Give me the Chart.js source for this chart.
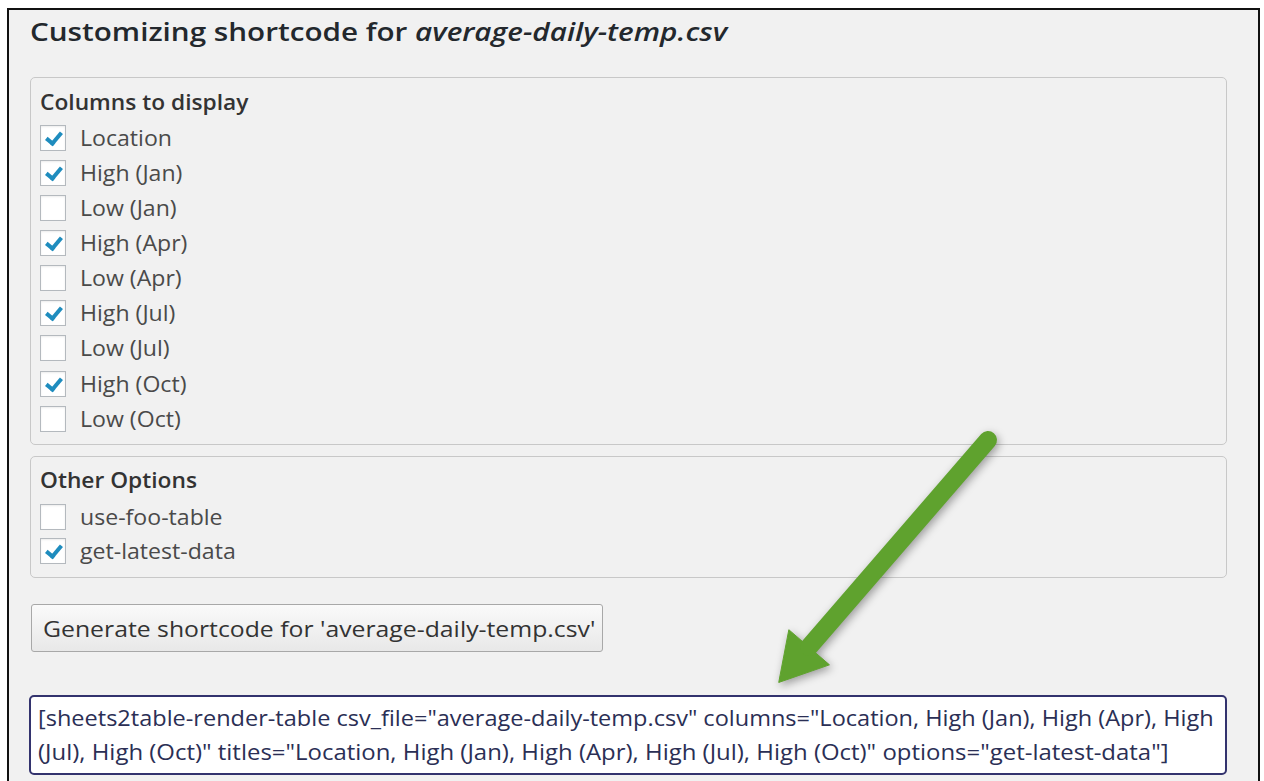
<!DOCTYPE html>
<html>
<head>
<meta charset="utf-8">
<script src="https://cdn.jsdelivr.net/npm/chart.js@4"></script>
<style>
  html, body { margin: 0; padding: 0; background: #fff; }
  body { width: 1264px; height: 781px; position: relative; overflow: hidden; font-family: "Open Sans", sans-serif; color: #333; }
  #frame { position: absolute; left: 7px; top: 8px; width: 1249px; height: 800px; border: 2px solid #111; border-bottom: none; background: #f1f1f1; }
  .abs { position: absolute; }
  .sx { display: inline-block; transform-origin: 0 50%; white-space: nowrap; }
  #title { left: 30px; top: 13px; font-size: 26px; font-weight: 600; color: #23282d; white-space: nowrap; }
  #title .sx { transform: scaleX(1.14); }
  #title i { font-weight: 600; }
  .box { left: 30px; width: 1195px; border: 1px solid #c8c8c8; border-radius: 5px; }
  .legend { left: 40px; font-size: 21px; font-weight: 600; color: #333; white-space: nowrap; }
  .legend .sx { transform: scaleX(1.083); }
  .row { left: 40px; height: 26px; display: flex; align-items: center; white-space: nowrap; }
  .cb { width: 26px; height: 26px; border: 1px solid #b4b9be; background: #fff; box-sizing: border-box; position: relative; box-shadow: inset 0 1px 2px rgba(0,0,0,0.08); flex: none; }
  .cb.on::after { content: ""; position: absolute; left: 8px; top: 3px; width: 6px; height: 12px; border: solid #1e8cbe; border-width: 0 4px 4px 0; transform: rotate(40deg); }
  .lbl { margin-left: 14px; font-size: 21px; color: #4a4a4a; transform: scaleX(1.1); }
  #btn { left: 31px; top: 604px; width: 572px; height: 48px; border: 1px solid #a8a8a8; border-radius: 3px; background: linear-gradient(#fafafa, #e8e8e8); font-size: 22px; color: #333; line-height: 46px; padding-left: 11px; box-sizing: border-box; white-space: nowrap; }
  #btn .sx { transform: scaleX(1.126); }
  #code { left: 29px; top: 695px; width: 1198px; height: 80px; border: 2px solid #33336e; border-radius: 5px; background: #fff; box-sizing: border-box; font-size: 21px; color: #2b2f55; line-height: 34px; padding: 4px 0 0 7px; white-space: nowrap; }
  #code .sx { display: block; transform: scaleX(1.12); }
  #code .sx + .sx { transform: scaleX(1.14); }
  #arrow { position: absolute; left: 0; top: 0; pointer-events: none; filter: drop-shadow(2px 3px 4px rgba(0,0,0,0.35)); }
</style>
</head>
<body>
<div id="frame"></div>
<div id="title" class="abs"><span class="sx">Customizing shortcode for <i>average-daily-temp.csv</i></span></div>
<div class="abs box" style="top:77px;height:366px;"></div>
<div class="abs legend" style="top:88px;"><span class="sx">Columns to display</span></div>
<div class="abs box" style="top:456px;height:120px;"></div>
<div class="abs legend" style="top:466px;"><span class="sx">Other Options</span></div>
<div id="rows"></div>
<div id="btn" class="abs"><span class="sx">Generate shortcode for 'average-daily-temp.csv'</span></div>
<div id="code" class="abs"></div>
<canvas id="arrow" width="1264" height="781"></canvas>
<script>
// checkbox lists
const columnLabels = ["Location", "High (Jan)", "Low (Jan)", "High (Apr)", "Low (Apr)", "High (Jul)", "Low (Jul)", "High (Oct)", "Low (Oct)"];
const columnChecked = [true, true, false, true, false, true, false, true, false];
const columnRowY = [138, 173, 208, 243, 278, 313, 348, 384, 419];
const otherLabels = ["use-foo-table", "get-latest-data"];
const otherChecked = [false, true];
const otherRowY = [517, 551];
const codeLines = [
    '[sheets2table-render-table csv_file="average-daily-temp.csv" columns="Location, High (Jan), High (Apr), High',
    '(Jul), High (Oct)" titles="Location, High (Jan), High (Apr), High (Jul), High (Oct)" options="get-latest-data"]'
];

// green arrow: shaft from top-right down to the head
const arrowX = [988, 809];
const arrowY = [440, 647];
const headX = [799];
const headY = [659];

function addRows(labels, checked, ys) {
    const holder = document.getElementById('rows');
    labels.forEach(function(text, i) {
        const row = document.createElement('div');
        row.className = 'abs row';
        row.style.top = (ys[i] - 13) + 'px';
        const cb = document.createElement('div');
        cb.className = 'cb' + (checked[i] ? ' on' : '');
        const lbl = document.createElement('span');
        lbl.className = 'lbl sx';
        lbl.textContent = text;
        row.appendChild(cb);
        row.appendChild(lbl);
        holder.appendChild(row);
    });
}
addRows(columnLabels, columnChecked, columnRowY);
addRows(otherLabels, otherChecked, otherRowY);
document.getElementById('code').innerHTML = codeLines.map(function(l) {
    return '<span class="sx">' + l.replace(/&/g, '&amp;').replace(/</g, '&lt;') + '</span>';
}).join('');

const green = 'rgb(95, 162, 46)';

// clockwise angle from "up" of the direction the arrow points
const angle = Math.atan2(arrowX[1] - arrowX[0], -(arrowY[1] - arrowY[0])) * 180 / Math.PI;

new Chart(document.getElementById('arrow').getContext('2d'), {
    type: 'scatter',
    data: {
        datasets: [
            {
                data: arrowX.map((x, i) => ({ x: x, y: arrowY[i] })),
                showLine: true,
                borderColor: green,
                borderWidth: 18,
                borderCapStyle: 'round',
                pointRadius: 0
            },
            {
                data: headX.map((x, i) => ({ x: x, y: headY[i] })),
                pointStyle: 'triangle',
                pointRadius: 31,
                pointRotation: angle,
                backgroundColor: green,
                borderColor: green,
                borderWidth: 1
            }
        ]
    },
    options: {
        responsive: false,
        animation: false,
        events: [],
        layout: { padding: 0, autoPadding: false },
        scales: {
            x: { display: false, min: 0, max: 1264 },
            y: { display: false, min: 0, max: 781, reverse: true }
        },
        plugins: {
            legend: { display: false },
            tooltip: { enabled: false }
        }
    }
});
</script>
</body>
</html>
